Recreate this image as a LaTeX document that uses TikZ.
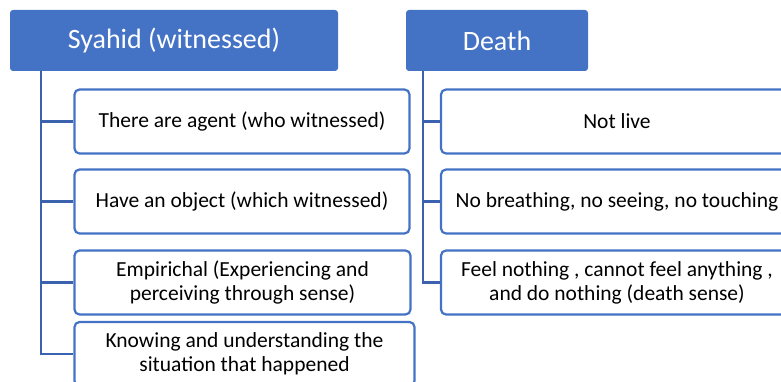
\documentclass[tikz,border=0pt]{standalone}
\usepackage{fontspec}
\setmainfont{Carlito}
\definecolor{hdrblue}{HTML}{4472C4}
\definecolor{linkblue}{HTML}{3A62AE}
\tikzset{
  head/.style={fill=hdrblue, text=white, rounded corners=3pt, minimum height=61pt,
    inner sep=0pt, font=\fontsize{28}{32}\selectfont},
  item/.style={draw=hdrblue, line width=2.2pt, fill=white, rounded corners=5pt,
    minimum height=64pt, inner sep=0pt, align=center,
    font=\fontsize{21.5}{24}\selectfont},
  link/.style={draw=linkblue, line width=2.2pt},
}
\begin{document}
\begin{tikzpicture}[x=1pt,y=-1pt]
\useasboundingbox (0,0) rectangle (781,382);
\clip (0,0) rectangle (781,382);

\node[head, minimum width=328pt] (syahid) at (174,40.5) {Syahid (witnessed)};
\node[head, minimum width=182pt] (death) at (497,40.5) {Death};

\node[item, minimum width=335pt] (s1) at (242,121.5) {There are agent (who witnessed)};
\node[item, minimum width=335pt] (s2) at (242,201.5) {Have an object (which witnessed)};
\node[item, minimum width=336pt] (s3) at (242.5,282.5) {Empirichal (Experiencing and\\perceiving through sense)};
\node[item, minimum width=340pt] (s4) at (244.5,354) {Knowing and understanding the\\situation that happened};

\node[item, minimum width=352pt] (d1) at (617,121.5) {Not live};
\node[item, minimum width=352pt] (d2) at (617,201.5) {No breathing, no seeing, no touching};
\node[item, minimum width=352pt] (d3) at (617,282.5) {Feel nothing , cannot feel anything ,\\and do nothing (death sense)};

\coordinate (ts) at (41,71);
\coordinate (td) at (423,71);

\path[link] (ts) |- (s1.west);
\path[link] (ts) |- (s2.west);
\path[link] (ts) |- (s3.west);
\path[link] (ts) |- (s4.west);
\path[link] (td) |- (d1.west);
\path[link] (td) |- (d2.west);
\path[link] (td) |- (d3.west);
\end{tikzpicture}
\end{document}
